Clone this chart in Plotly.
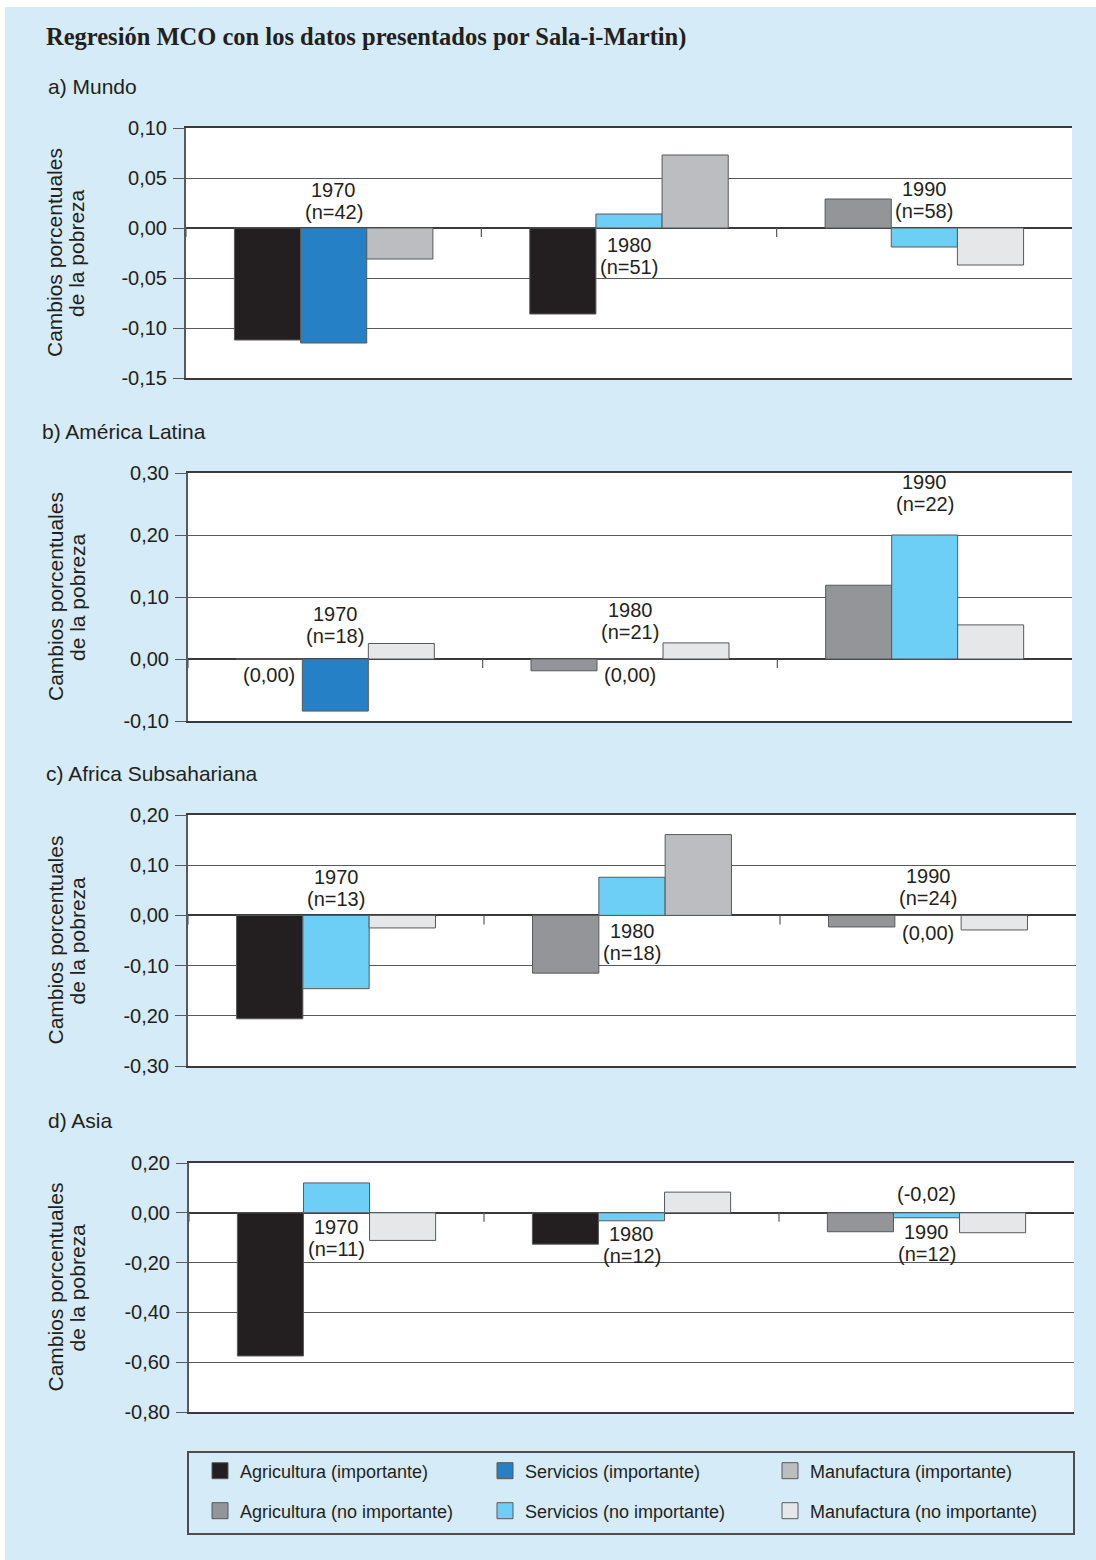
import plotly.graph_objects as go

# ---------------------------------------------------------------- data
CATEGORIES = ["1970", "1980", "1990"]

SERIES = [
    "Agricultura (importante)",
    "Servicios (importante)",
    "Manufactura (importante)",
    "Agricultura (no importante)",
    "Servicios (no importante)",
    "Manufactura (no importante)",
]

# a) Mundo
MUNDO_N = [42, 51, 58]
MUNDO_AGRI = [-0.112, -0.086, 0.029]
MUNDO_SERV = [-0.115, 0.014, -0.019]
MUNDO_MANU = [-0.031, 0.073, -0.037]
MUNDO_AGRI_IMP = [True, True, False]
MUNDO_SERV_IMP = [True, False, False]
MUNDO_MANU_IMP = [True, True, False]
MUNDO_TICKS = [-0.15, -0.10, -0.05, 0.00, 0.05, 0.10]

# b) América Latina
AL_N = [18, 21, 22]
AL_AGRI = [0.00, -0.019, 0.119]
AL_SERV = [-0.084, 0.00, 0.200]
AL_MANU = [0.025, 0.026, 0.055]
AL_AGRI_IMP = [True, False, False]
AL_SERV_IMP = [True, True, False]
AL_MANU_IMP = [False, False, False]
AL_TICKS = [-0.10, 0.00, 0.10, 0.20, 0.30]

# c) Africa Subsahariana
AFR_N = [13, 18, 24]
AFR_AGRI = [-0.206, -0.115, -0.023]
AFR_SERV = [-0.146, 0.076, 0.00]
AFR_MANU = [-0.025, 0.161, -0.029]
AFR_AGRI_IMP = [True, False, False]
AFR_SERV_IMP = [False, False, True]
AFR_MANU_IMP = [False, True, False]
AFR_TICKS = [-0.30, -0.20, -0.10, 0.00, 0.10, 0.20]

# d) Asia
ASIA_N = [11, 12, 12]
ASIA_AGRI = [-0.575, -0.126, -0.076]
ASIA_SERV = [0.120, -0.032, -0.02]
ASIA_MANU = [-0.111, 0.083, -0.080]
ASIA_AGRI_IMP = [True, True, False]
ASIA_SERV_IMP = [False, False, False]
ASIA_MANU_IMP = [False, False, False]
ASIA_TICKS = [-0.80, -0.60, -0.40, -0.20, 0.00, 0.20]

# bar annotations: (category index, slot, kind, side)
MUNDO_LABELS = [(0, "serv", "year", "above"), (1, "serv", "year", "below"),
                (2, "serv", "year", "above")]
AL_LABELS = [(0, "agri", "value", "below"), (0, "serv", "year", "above"),
             (1, "serv", "year", "above"), (1, "serv", "value", "below"),
             (2, "serv", "year", "above")]
AFR_LABELS = [(0, "serv", "year", "above"), (1, "serv", "year", "below"),
              (2, "serv", "year", "above"), (2, "serv", "value", "below")]
ASIA_LABELS = [(0, "serv", "year", "below"), (1, "serv", "year", "below"),
               (2, "serv", "value", "above"), (2, "serv", "year", "below")]

PANELS = [
    dict(title="a) Mundo", n=MUNDO_N, agri=MUNDO_AGRI, serv=MUNDO_SERV, manu=MUNDO_MANU,
         agri_imp=MUNDO_AGRI_IMP, serv_imp=MUNDO_SERV_IMP, manu_imp=MUNDO_MANU_IMP,
         ticks=MUNDO_TICKS, labels=MUNDO_LABELS),
    dict(title="b) América Latina", n=AL_N, agri=AL_AGRI, serv=AL_SERV, manu=AL_MANU,
         agri_imp=AL_AGRI_IMP, serv_imp=AL_SERV_IMP, manu_imp=AL_MANU_IMP,
         ticks=AL_TICKS, labels=AL_LABELS),
    dict(title="c) Africa Subsahariana", n=AFR_N, agri=AFR_AGRI, serv=AFR_SERV, manu=AFR_MANU,
         agri_imp=AFR_AGRI_IMP, serv_imp=AFR_SERV_IMP, manu_imp=AFR_MANU_IMP,
         ticks=AFR_TICKS, labels=AFR_LABELS),
    dict(title="d) Asia", n=ASIA_N, agri=ASIA_AGRI, serv=ASIA_SERV, manu=ASIA_MANU,
         agri_imp=ASIA_AGRI_IMP, serv_imp=ASIA_SERV_IMP, manu_imp=ASIA_MANU_IMP,
         ticks=ASIA_TICKS, labels=ASIA_LABELS),
]

# ---------------------------------------------------------------- style
W, H = 1096, 1560
BG = "#d5ebf8"
INK = "#231f20"
SANS = "Liberation Sans, Arial, sans-serif"
SERIF = "Liberation Serif, Times New Roman, serif"
OUTLINE = "#58595b"

COLORS = {
    "Agricultura (importante)": "#231f20",
    "Servicios (importante)": "#2580c5",
    "Manufactura (importante)": "#bcbdc0",
    "Agricultura (no importante)": "#939598",
    "Servicios (no importante)": "#6dcff6",
    "Manufactura (no importante)": "#e6e7e8",
}
SLOT_NAMES = {"agri": "Agricultura", "serv": "Servicios", "manu": "Manufactura"}

BAR_W = 0.224
SLOT_OFFSET = {"agri": -1.5 * BAR_W, "serv": -0.5 * BAR_W, "manu": 0.5 * BAR_W}
SLOT_CENTER = {"agri": -BAR_W, "serv": 0.0, "manu": BAR_W}

# plot boxes in pixels: (left, right, top, bottom)
BOXES = [(186, 1072, 128, 378), (188, 1072, 473, 721),
         (188, 1076, 815, 1066), (189, 1074, 1163, 1412)]
TITLE_POS = [(46, 86), (40, 431), (44, 773), (46, 1120)]
# extra vertical spacing (px) of each bar annotation
LABEL_NUDGE = [[1, 1, 2], [0, 8, 12, 0, 16], [1, 0, 2, 2], [-2, -3, 4, -2]]
LINE_STEP = 22


def fx(px):
    return px / W


def fy(py):
    return 1 - py / H


def fmt(v):
    return f"{v + 0.0:.2f}".replace(".", ",")


fig = go.Figure()
annotations = []
shapes = []

# thin white page edge at the top and left of the tinted sheet
shapes.append(dict(type="rect", xref="paper", yref="paper", x0=0, x1=1,
                   y0=fy(7), y1=1, fillcolor="white", line=dict(width=0), layer="below"))
shapes.append(dict(type="rect", xref="paper", yref="paper", x0=0, x1=fx(5),
                   y0=0, y1=1, fillcolor="white", line=dict(width=0), layer="below"))

for i, p in enumerate(PANELS):
    k = "" if i == 0 else str(i + 1)
    xa, ya = "x" + k, "y" + k
    left, right, top, bottom = BOXES[i]

    # bars: each slot takes the "importante" or "no importante" colour
    for slot in ("agri", "serv", "manu"):
        vals = p[slot]
        flags = p[slot + "_imp"]
        for imp in (True, False):
            name = f"{SLOT_NAMES[slot]} ({'importante' if imp else 'no importante'})"
            y = [v if f == imp else None for v, f in zip(vals, flags)]
            if all(v is None for v in y):
                continue
            fig.add_trace(go.Bar(
                x=CATEGORIES, y=y, xaxis=xa, yaxis=ya, name=name,
                width=BAR_W, offset=SLOT_OFFSET[slot],
                marker=dict(color=COLORS[name], line=dict(color=OUTLINE, width=1)),
                showlegend=False, hoverinfo="skip",
            ))

    ticks = p["ticks"]
    fig.update_layout(**{
        "xaxis" + k: dict(
            domain=[fx(left), fx(right)], anchor=ya, type="category",
            categoryorder="array", categoryarray=CATEGORIES, range=[-0.5, 2.5],
            showticklabels=False, ticks="", showgrid=False, zeroline=False,
            showline=True, mirror=True, linecolor="#3a3a3c", linewidth=1.5,
            automargin=False, fixedrange=True,
        ),
        "yaxis" + k: dict(
            domain=[fy(bottom), fy(top)], anchor=xa, range=[ticks[0], ticks[-1]],
            tickmode="array", tickvals=ticks, ticktext=[fmt(t) for t in ticks],
            ticks="outside", ticklen=11, tickwidth=1.2, tickcolor="#58595b",
            ticklabelstandoff=2,
            tickfont=dict(family=SANS, size=20, color=INK),
            showline=True, linecolor="#58595b", linewidth=2,
            showgrid=True, gridcolor="#58595b", gridwidth=1,
            zeroline=True, zerolinecolor="#3a3a3c", zerolinewidth=1.6,
            automargin=False, fixedrange=True,
        ),
    })

    # short category-boundary ticks hanging from the zero line
    for b in (-0.5, 0.5, 1.5):
        shapes.append(dict(type="line", xref=xa, yref=ya, x0=b, x1=b,
                           ysizemode="pixel", yanchor=0, y0=0, y1=-9,
                           line=dict(color="#58595b", width=1.2)))

    # panel title
    tx, ty = TITLE_POS[i]
    annotations.append(dict(text=p["title"], xref="paper", yref="paper",
                            x=fx(tx), y=fy(ty), xanchor="left", yanchor="middle",
                            showarrow=False, font=dict(family=SANS, size=21, color=INK)))

    # y-axis title (two lines, rotated)
    cy = fy((top + bottom) / 2)
    for line, lx in (("Cambios porcentuales", 55), ("de la pobreza", 77)):
        annotations.append(dict(text=line, xref="paper", yref="paper", x=fx(lx), y=cy,
                                xanchor="center", yanchor="middle", textangle=-90,
                                showarrow=False, font=dict(family=SANS, size=21, color=INK)))

    # bar annotations
    for j, (c, slot, kind, side) in enumerate(p["labels"]):
        v = p[slot][c]
        anchor = max(0.0, v) if side == "above" else min(0.0, v)
        if kind == "year":
            lines = [CATEGORIES[c], f"(n={p['n'][c]})"]
        else:
            lines = [f"({fmt(v)})"]
        gap = (2 if side == "above" else 3) + LABEL_NUDGE[i][j]
        n = len(lines)
        for li, txt in enumerate(lines):
            if side == "above":
                shift = gap + (n - 1 - li) * LINE_STEP
                yanchor = "bottom"
            else:
                shift = -(gap + li * LINE_STEP)
                yanchor = "top"
            annotations.append(dict(text=txt, xref=xa, yref=ya, x=c + SLOT_CENTER[slot],
                                    y=anchor, yshift=shift, xanchor="center",
                                    yanchor=yanchor, showarrow=False,
                                    font=dict(family=SANS, size=20, color=INK)))

# legend entries (squares) in two rows
for s_i, name in enumerate(SERIES):
    fig.add_trace(go.Scatter(
        x=[None], y=[None], mode="markers", name=name,
        legend="legend" if s_i < 3 else "legend2",
        marker=dict(symbol="square", size=16, color=COLORS[name],
                    line=dict(color=OUTLINE, width=1)),
        hoverinfo="skip",
    ))

legend_style = dict(orientation="h", xanchor="left", yanchor="middle",
                    entrywidth=240, entrywidthmode="pixels",
                    bgcolor="rgba(0,0,0,0)", borderwidth=0,
                    font=dict(family=SANS, size=18, color=INK),
                    itemclick=False, itemdoubleclick=False)

# legend frame
shapes.append(dict(type="rect", xref="paper", yref="paper", x0=fx(188), x1=fx(1074),
                   y0=fy(1534), y1=fy(1452), line=dict(color="#4d4d4f", width=2),
                   fillcolor="rgba(0,0,0,0)"))

# main title
annotations.append(dict(text="<b>Regresión MCO con los datos presentados por Sala-i-Martin)</b>",
                        xref="paper", yref="paper", x=fx(44), y=fy(37),
                        xanchor="left", yanchor="middle", showarrow=False,
                        font=dict(family=SERIF, size=24.5, color=INK)))

fig.update_layout(
    width=W, height=H, autosize=False,
    margin=dict(l=0, r=0, t=0, b=0, pad=0, autoexpand=False),
    paper_bgcolor=BG, plot_bgcolor="white",
    barmode="overlay",
    legend=dict(legend_style, x=fx(200), y=fy(1471)),
    legend2=dict(legend_style, x=fx(200), y=fy(1511)),
    annotations=annotations, shapes=shapes,
    showlegend=True,
)

# the page body gets no default margin so the figure fills the window exactly
fig.write_html(
    "out.html",
    post_script="document.body.style.margin='0';document.body.style.overflow='hidden';",
)
